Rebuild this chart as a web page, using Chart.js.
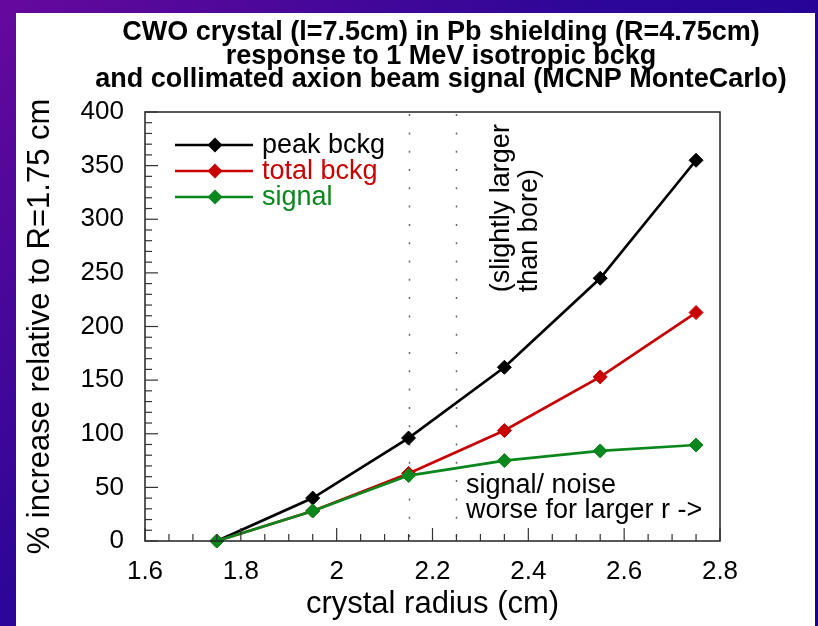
<!DOCTYPE html>
<html>
<head>
<meta charset="utf-8">
<script src="https://cdn.jsdelivr.net/npm/chart.js@4.4.1/dist/chart.umd.min.js"></script>
<style>
  body {
    margin: 0;
    width: 818px;
    height: 626px;
    overflow: hidden;
    background: linear-gradient(135deg, #66099c 0%, #2c0698 42%, #1a0096 100%);
  }
  #panel {
    position: absolute;
    left: 16px;
    top: 13px;
    width: 799px;
    height: 613px;
    background: #fff;
  }
  #myChart {
    position: absolute;
    left: 0;
    top: 0;
  }
</style>
</head>
<body>
<div id="panel"></div>
<canvas id="myChart" width="818" height="626"></canvas>
<script>
const radius = [1.75, 1.95, 2.15, 2.35, 2.55, 2.75];
const peakBckg = [0, 40, 96, 162, 245, 355];
const totalBckg = [0, 28, 63, 103, 153, 213];
const signal = [0, 28, 61, 75, 84, 89.5];
const boreLines = [2.15, 2.25];

const titleLines = [
  "CWO crystal (l=7.5cm) in Pb shielding (R=4.75cm)",
  "response to 1 MeV isotropic bckg",
  "and collimated axion beam signal (MCNP MonteCarlo)"
];

const FONT = "'Liberation Sans', Arial, Helvetica, sans-serif";

function points(ys) {
  return radius.map((r, i) => ({ x: r, y: ys[i] }));
}

function series(label, ys, color, order) {
  return {
    label: label,
    data: points(ys),
    borderColor: color,
    backgroundColor: color,
    borderWidth: 2.7,
    pointStyle: "rectRot",
    pointRadius: 7,
    pointHoverRadius: 7,
    pointBorderWidth: 1,
    tension: 0,
    clip: false,
    order: order
  };
}

// frame, inward ticks, dotted bore lines and all the text
const decorations = {
  id: "decorations",
  beforeDatasetsDraw(chart) {
    const ctx = chart.ctx;
    const area = chart.chartArea;
    const xs = chart.scales.x;
    ctx.save();
    ctx.strokeStyle = "#666";
    ctx.lineWidth = 1.5;
    ctx.setLineDash([2, 16.3]);
    boreLines.forEach(v => {
      const px = Math.round(xs.getPixelForValue(v)) + 0.5;
      ctx.beginPath();
      ctx.moveTo(px, area.bottom - 4);
      ctx.lineTo(px, area.top);
      ctx.stroke();
    });
    ctx.restore();
  },
  afterDraw(chart) {
    const ctx = chart.ctx;
    const area = chart.chartArea;
    const xs = chart.scales.x;
    const ys = chart.scales.y;
    ctx.save();

    // box
    ctx.strokeStyle = "#222";
    ctx.lineWidth = 1.5;
    ctx.strokeRect(area.left, area.top, area.right - area.left, area.bottom - area.top);

    // ticks pointing into the plot
    ctx.lineWidth = 1.2;
    ctx.strokeStyle = "#333";
    for (let i = 0; i <= 24; i++) {
      const v = 1.6 + i * 0.05;
      const px = xs.getPixelForValue(v);
      const len = i % 4 === 0 ? 13 : 7;
      ctx.beginPath();
      ctx.moveTo(px, area.bottom);
      ctx.lineTo(px, area.bottom - len);
      ctx.stroke();
    }
    for (let i = 0; i <= 40; i++) {
      const py = ys.getPixelForValue(i * 10);
      const len = i % 5 === 0 ? 13 : 7;
      ctx.beginPath();
      ctx.moveTo(area.left, py);
      ctx.lineTo(area.left + len, py);
      ctx.stroke();
    }

    // title
    ctx.fillStyle = "#000";
    ctx.font = "bold 27px " + FONT;
    ctx.textAlign = "center";
    ctx.textBaseline = "alphabetic";
    titleLines.forEach((t, i) => ctx.fillText(t, 441, 40 + i * 23.5));

    // legend
    const lx = area.left + 30;
    chart.data.datasets.forEach((ds, i) => {
      const y = area.top + 33 + i * 26;
      ctx.strokeStyle = ds.borderColor;
      ctx.lineWidth = 2.7;
      ctx.beginPath();
      ctx.moveTo(lx, y);
      ctx.lineTo(lx + 78, y);
      ctx.stroke();
      ctx.fillStyle = ds.borderColor;
      ctx.beginPath();
      ctx.moveTo(lx + 40 - 7.5, y);
      ctx.lineTo(lx + 40, y - 7.5);
      ctx.lineTo(lx + 40 + 7.5, y);
      ctx.lineTo(lx + 40, y + 7.5);
      ctx.closePath();
      ctx.fill();
      ctx.font = "27px " + FONT;
      ctx.textAlign = "left";
      ctx.textBaseline = "middle";
      ctx.fillText(ds.label, lx + 87, y + 1);
    });

    // notes
    ctx.fillStyle = "#000";
    ctx.font = "27px " + FONT;
    ctx.save();
    ctx.translate(xs.getPixelForValue(2.345), ys.getPixelForValue(232));
    ctx.rotate(-Math.PI / 2);
    ctx.textAlign = "left";
    ctx.textBaseline = "middle";
    ctx.fillText("(slightly larger", 0, 0);
    ctx.fillText("than bore)", 0, 28);
    ctx.restore();

    ctx.textAlign = "left";
    ctx.textBaseline = "alphabetic";
    const nx = xs.getPixelForValue(2.27);
    const ny = ys.getPixelForValue(45);
    ctx.fillText("signal/ noise", nx, ny);
    ctx.fillText("worse for larger r ->", nx, ny + 25);

    ctx.restore();
  }
};

const config = {
  type: "line",
  data: {
    datasets: [
      series("peak bckg", peakBckg, "#000000", 3),
      series("total bckg", totalBckg, "#c80000", 2),
      series("signal", signal, "#0a871c", 1)
    ]
  },
  options: {
    responsive: false,
    animation: false,
    events: [],
    layout: { padding: { top: 112, right: 98, left: 0, bottom: 0 } },
    plugins: {
      legend: { display: false },
      title: { display: false },
      tooltip: { enabled: false }
    },
    scales: {
      x: {
        type: "linear",
        min: 1.6,
        max: 2.8,
        grid: { display: false, drawTicks: false },
        border: { display: false },
        ticks: {
          stepSize: 0.2,
          color: "#000",
          padding: 15,
          font: { family: FONT, size: 26 },
          callback: v => String(parseFloat(v.toFixed(1)))
        },
        title: {
          display: true,
          text: "crystal radius (cm)",
          color: "#000",
          padding: { top: 0, bottom: 3 },
          font: { family: FONT, size: 31 }
        },
        afterFit: s => { s.height = 85; }
      },
      y: {
        min: 0,
        max: 400,
        grid: { display: false, drawTicks: false },
        border: { display: false },
        ticks: {
          stepSize: 50,
          color: "#000",
          padding: 21,
          font: { family: FONT, size: 26 }
        },
        title: {
          display: true,
          text: "% increase relative to R=1.75 cm",
          color: "#000",
          padding: { top: 22, bottom: 0 },
          font: { family: FONT, size: 31 }
        },
        afterFit: s => { s.width = 145; }
      }
    }
  },
  plugins: [decorations]
};

const covidChart = new Chart(document.getElementById("myChart"), config);
</script>
</body>
</html>
